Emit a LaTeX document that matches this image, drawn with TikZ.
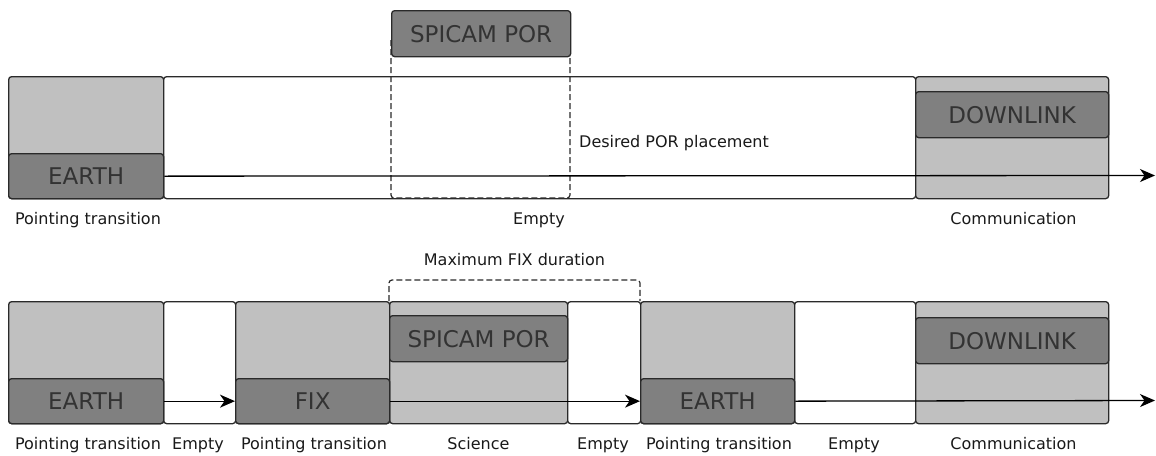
\documentclass[tikz,border=0pt]{standalone}
\usepackage{fontspec}
\setmainfont{DejaVu Sans}
\usetikzlibrary{arrows.meta}
\definecolor{lg}{HTML}{C0C0C0}
\definecolor{dg}{HTML}{808080}
\definecolor{ln}{HTML}{2A2A2A}
\begin{document}
\begin{tikzpicture}[x=1pt,y=-1pt,
 box/.style={draw=ln, line width=1.3pt, rounded corners=3pt, inner sep=0pt, anchor=north west},
 phase/.style={box, minimum height=122pt},
 sub/.style={box, fill=dg, font=\fontsize{23}{26}\selectfont, text=black!80},
 lab/.style={font=\fontsize{16}{19}\selectfont, anchor=base, text=black!90, inner sep=0pt},
 arr/.style={draw=black, line width=1.3pt, -{Stealth[length=15pt,width=13pt,inset=4.5pt]}},
 dsh/.style={draw=ln, line width=1.2pt, dash pattern=on 6pt off 3pt, rounded corners=3pt}]
\useasboundingbox (0,0) rectangle (1156,455);
% ---------- top row ----------
\node[phase, fill=lg, minimum width=155pt] (pt0) at (8,76) {};
\node[phase, fill=white, minimum width=752pt] (em0) at (163,76) {};
\node[phase, fill=lg, minimum width=193pt] (com0) at (915,76) {};
\node[sub, minimum width=155pt, minimum height=45pt] (e0) at (8,153) {EARTH};
\node[sub, minimum width=193pt, minimum height=46pt] (dl0) at (915,91) {DOWNLINK};
\draw[dsh] (391,40) -- (391,198) -- (570,198) -- (570,40);
\node[sub, minimum width=179pt, minimum height=46pt] (spi0) at (391,10) {SPICAM POR};
\node[lab, anchor=base west] (dpp) at (579,147) {Desired POR placement};
\coordinate (end0) at (1155,175.5);
\draw[arr] (e0.east) -- (end0);
\node[lab] (l01) at (88,224.5) {Pointing transition};
\node[lab] (l02) at (539,224.5) {Empty};
\node[lab] (l03) at (1013.5,224.5) {Communication};
% ---------- bottom row ----------
\draw[dsh] (389,301) -- (389,280) -- (640,280) -- (640,301);
\node[lab] (mfd) at (514.5,265) {Maximum FIX duration};
\node[phase, fill=lg, minimum width=155pt] (pt1) at (8,301) {};
\node[phase, fill=white, minimum width=72pt] (em1) at (163,301) {};
\node[phase, fill=lg, minimum width=154pt] (pt2) at (235,301) {};
\node[phase, fill=lg, minimum width=178pt] (sci) at (389,301) {};
\node[phase, fill=white, minimum width=73pt] (em2) at (567,301) {};
\node[phase, fill=lg, minimum width=154pt] (pt3) at (640,301) {};
\node[phase, fill=white, minimum width=121pt] (em3) at (794,301) {};
\node[phase, fill=lg, minimum width=193pt] (com1) at (915,301) {};
\node[sub, minimum width=155pt, minimum height=45pt] (e1) at (8,378) {EARTH};
\node[sub, minimum width=154pt, minimum height=45pt] (fix) at (235,378) {FIX};
\node[sub, minimum width=154pt, minimum height=45pt] (e2) at (640,378) {EARTH};
\node[sub, minimum width=178pt, minimum height=46pt] (spi1) at (389,315) {SPICAM POR};
\node[sub, minimum width=193pt, minimum height=46pt] (dl1) at (915,317) {DOWNLINK};
\coordinate (end1) at (1155,400.5);
\draw[arr] (e1.east) -- (fix.west);
\draw[arr] (fix.east) -- (e2.west);
\draw[arr] (e2.east) -- (end1);
\node[lab] (l11) at (88,449) {Pointing transition};
\node[lab] (l12) at (198,449) {Empty};
\node[lab] (l13) at (314,449) {Pointing transition};
\node[lab] (l14) at (478.5,449) {Science};
\node[lab] (l15) at (603,449) {Empty};
\node[lab] (l16) at (719,449) {Pointing transition};
\node[lab] (l17) at (854,449) {Empty};
\node[lab] (l18) at (1013.5,449) {Communication};
\end{tikzpicture}
\end{document}
